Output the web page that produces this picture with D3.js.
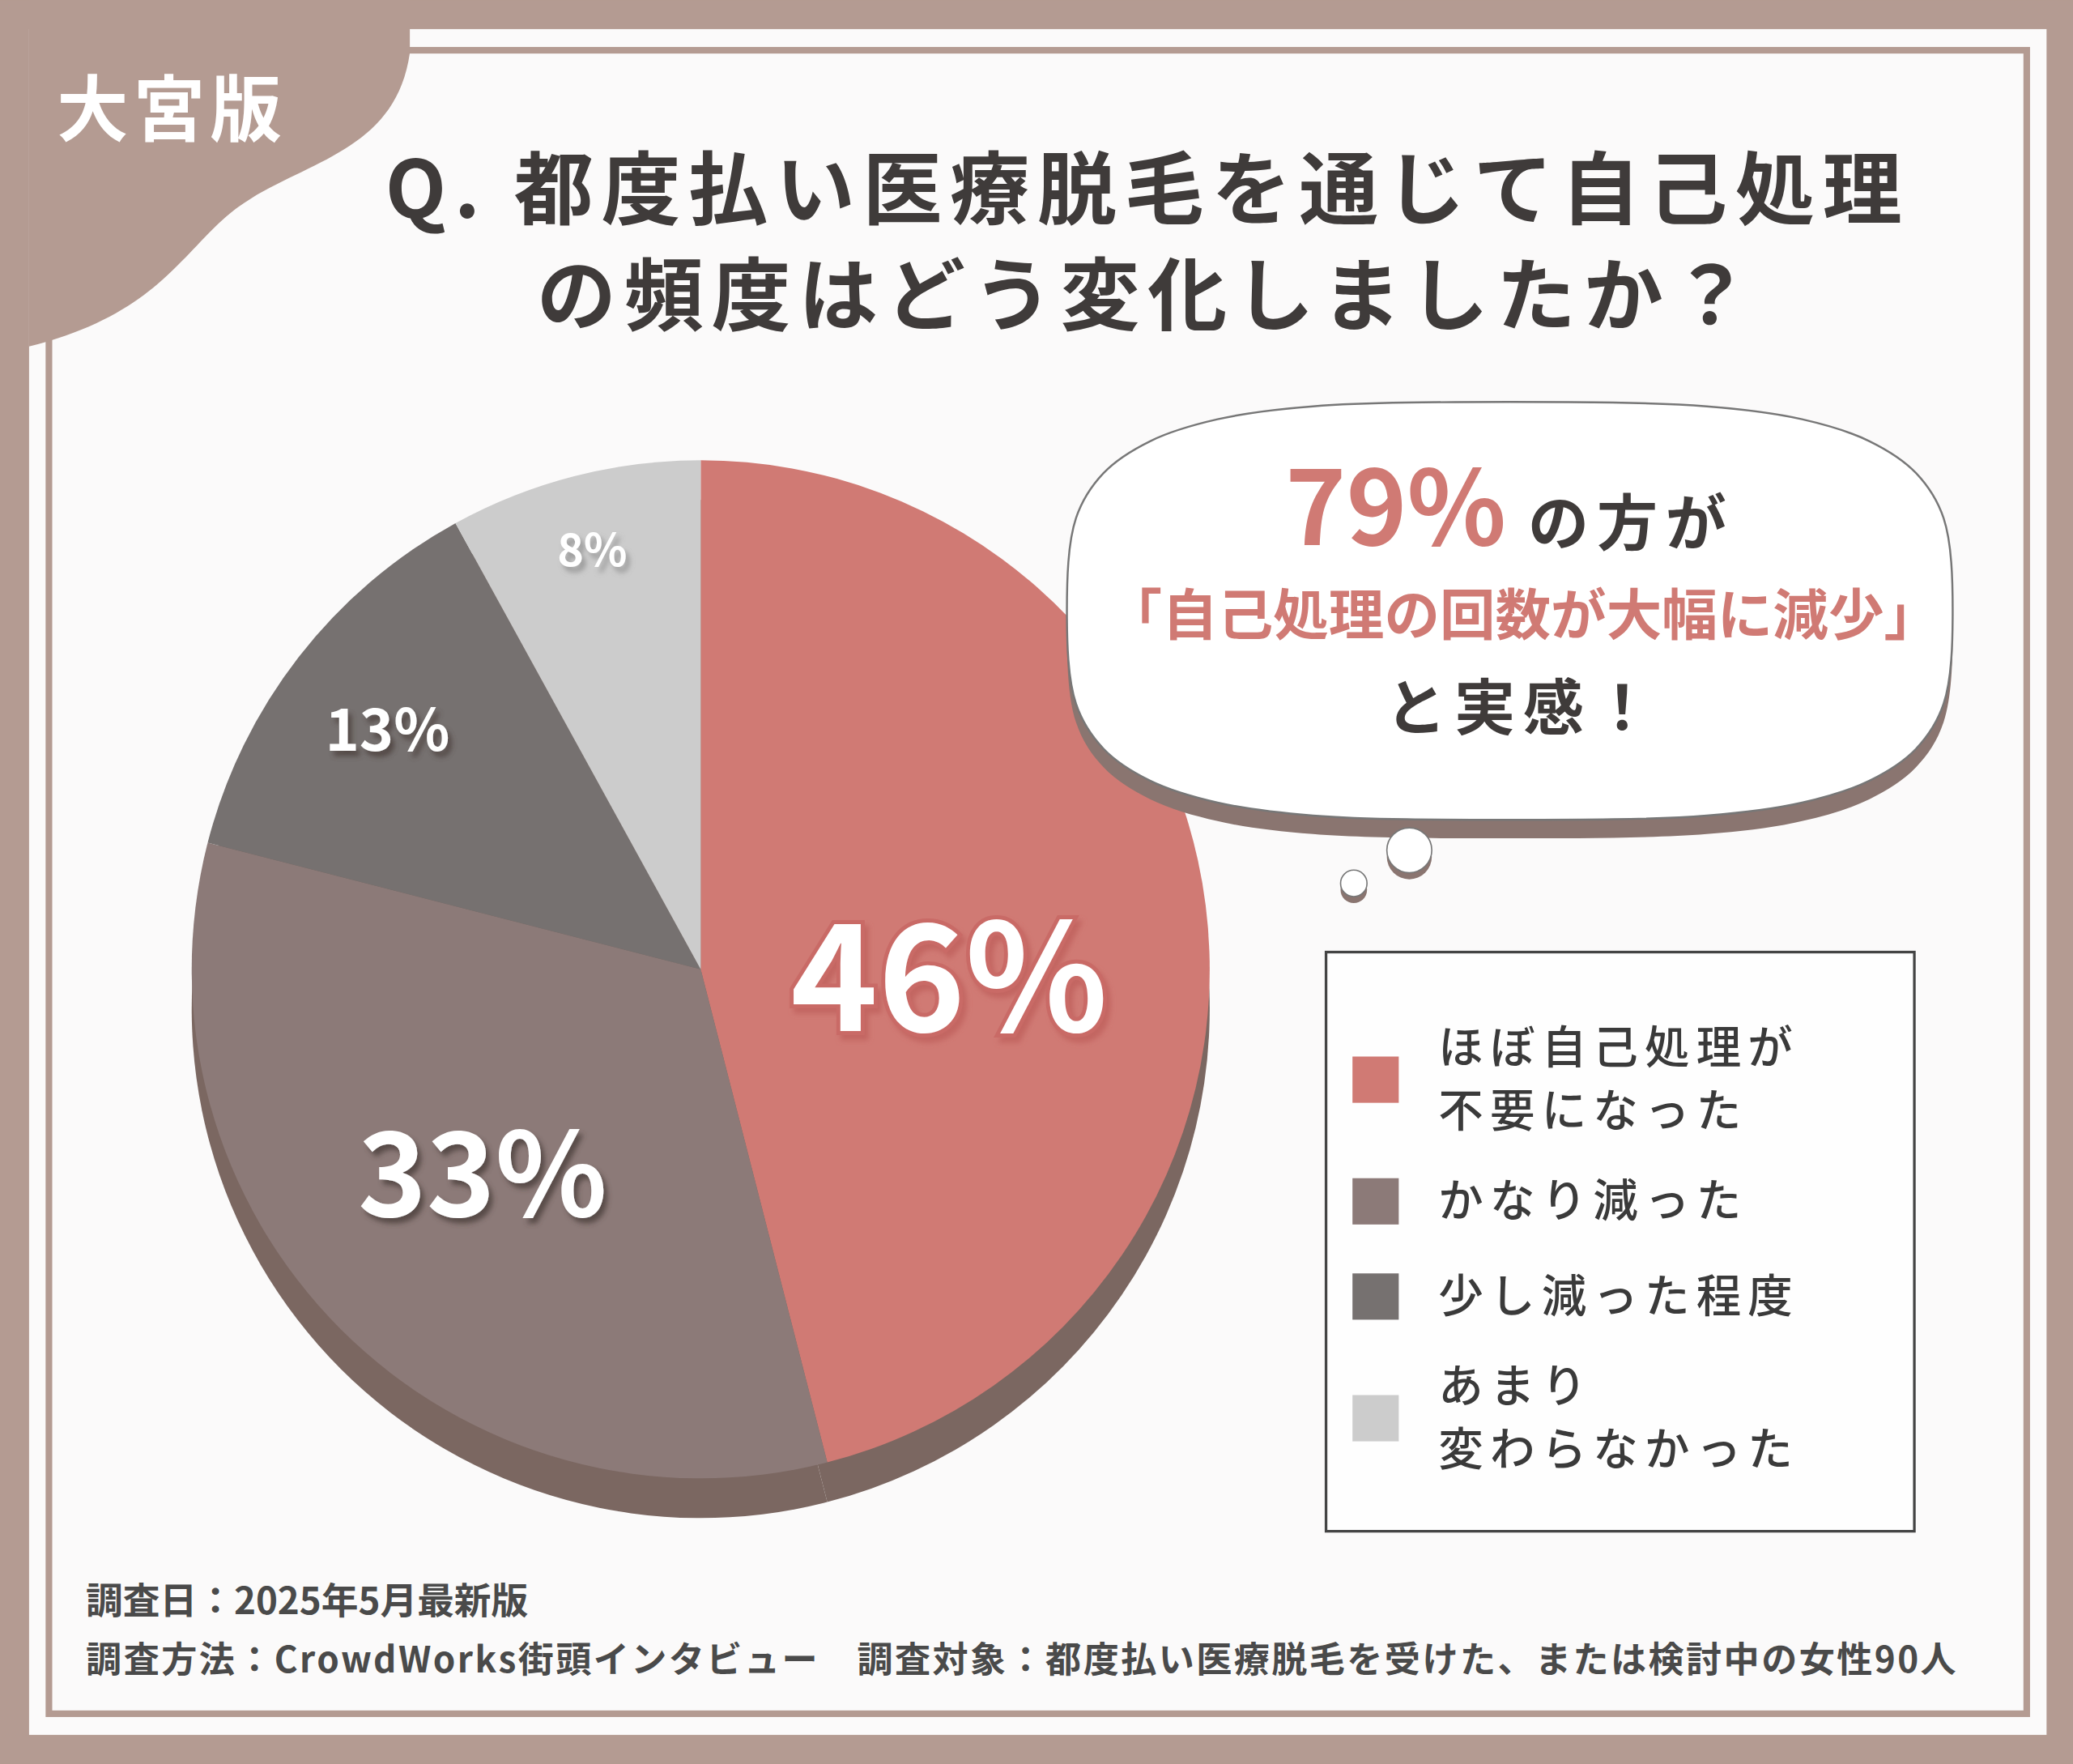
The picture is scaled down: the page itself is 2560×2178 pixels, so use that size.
<!DOCTYPE html>
<html><head><meta charset="utf-8">
<script src="https://cdn.jsdelivr.net/npm/d3@7"></script>
<style>body{margin:0;background:#b49b92}svg{display:block}</style></head>
<body><script>
const categories=["ほぼ自己処理が\n不要になった","かなり減った","少し減った程度","あまり\n変わらなかった"];
const values=[46,33,13,8];
const colors=["#d07a74","#8c7a78","#767170","#cccccc"];
const labels=["46%","33%","13%","8%"];

const svg=d3.select("body").append("svg").attr("width",2560).attr("height",2178).attr("viewBox","0 0 1568 1334");
const F="'Noto Sans CJK JP','Noto Sans',sans-serif";
const defs=svg.append("defs");
[["shR","#c0605c"],["shD","#4a3c3a"],["shG","#8a8a8a"]].forEach(([id,c])=>{
 const f=defs.append("filter").attr("id",id).attr("x","-20%").attr("y","-20%").attr("width","140%").attr("height","140%");
 f.append("feDropShadow").attr("dx",3).attr("dy",4).attr("stdDeviation",2).attr("flood-color",c).attr("flood-opacity",0.8);});
svg.append("rect").attr("width",1568).attr("height",1334).attr("fill","#b49b92");
svg.append("rect").attr("x",22).attr("y",22).attr("width",1526).attr("height",1290).attr("fill","#fbfafa");
svg.append("rect").attr("x",37).attr("y",38).attr("width",1496).attr("height",1258).attr("fill","none").attr("stroke","#b49b92").attr("stroke-width",5);
svg.append("path").attr("d","M0,0 H310 V40 C300,110 240,120 190,150 C140,180 130,235 22,262 V0 Z").attr("fill","#b49b92");
svg.append("text").attr("x",130).attr("y",102).attr("text-anchor","middle").attr("font-family",F).attr("font-weight",700).attr("font-size",54).attr("fill","#fff").attr("letter-spacing",4).text("大宮版");
[["Q. 都度払い医療脱毛を通じて自己処理",165],["の頻度はどう変化しましたか？",245]].forEach(([t,y])=>
 svg.append("text").attr("x",868).attr("y",y).attr("text-anchor","middle").attr("font-family",F).attr("font-weight",700).attr("font-size",60).attr("letter-spacing",6).attr("fill","#3f3b3a").text(t));

// pie
const cx=530,cy=733,r=385;
const pie=d3.pie().sort(null).value(d=>d)(values);
const arc=d3.arc().innerRadius(0).outerRadius(r);
svg.append("g").attr("transform",`translate(${cx},${cy+30})`).selectAll("path").data(pie).join("path").attr("d",arc).attr("fill","#7b6761");
svg.append("g").attr("transform",`translate(${cx},${cy})`).selectAll("path").data(pie).join("path").attr("d",arc).attr("fill",(d,i)=>colors[i]);
const lp=[[718,780,112,"#c96a66","shR"],[365,920,88,"#5a4a48","shD"],[293,568,44,"#5a5050","shD"],[448,428,34,"#9a9a9a","shG"]];
labels.forEach((t,i)=>{const [x,y,fs,st,fl]=lp[i];
 svg.append("text").attr("x",x).attr("y",y).attr("text-anchor","middle").attr("font-family",F).attr("font-weight",700).attr("font-size",fs).attr("fill","#fff").attr("stroke",st).attr("stroke-width",i==0?6:0).attr("paint-order","stroke").attr("filter",`url(#${fl})`).text(t);
});

// cloud bubble
const pts=[];const N=24;
for(let k=0;k<N;k++){const a=k/N*2*Math.PI;const c=Math.cos(a),s=Math.sin(a);
 const e=0.6;const x=Math.sign(c)*Math.pow(Math.abs(c),e),y=Math.sign(s)*Math.pow(Math.abs(s),e);
 pts.push([1142+335*x,462+158*y]);}
const cl=d3.line().curve(d3.curveCatmullRomClosed);
svg.append("path").attr("d",cl(pts)).attr("transform","translate(0,14)").attr("fill","#8a7570");
svg.append("path").attr("d",cl(pts)).attr("fill","#fff").attr("stroke","#777").attr("stroke-width",1.5);
[[1066,643,17],[1024,668,10]].forEach(([x,y,rr])=>{
 svg.append("circle").attr("cx",x).attr("cy",y+5).attr("r",rr).attr("fill","#8a7570");
 svg.append("circle").attr("cx",x).attr("cy",y).attr("r",rr).attr("fill","#fff").attr("stroke","#777");});
const t1=svg.append("text").attr("x",1142).attr("y",412).attr("text-anchor","middle").attr("font-family",F).attr("font-weight",700);
t1.append("tspan").attr("font-size",78).attr("fill","#d07a74").text("79%");
t1.append("tspan").attr("font-size",46).attr("fill","#3f3b3a").attr("letter-spacing",6).text(" の方が");
svg.append("text").attr("x",1152).attr("y",480).attr("text-anchor","middle").attr("font-family",F).attr("font-weight",700).attr("font-size",42).attr("fill","#d07a74").text("「自己処理の回数が大幅に減少」");
svg.append("text").attr("x",1152).attr("y",552).attr("text-anchor","middle").attr("font-family",F).attr("font-weight",700).attr("font-size",46).attr("letter-spacing",6).attr("fill","#3f3b3a").text("と実感！");

// legend
svg.append("rect").attr("x",1003).attr("y",720).attr("width",445).attr("height",438).attr("fill","#fff").attr("fill-opacity",0.7).attr("stroke","#444").attr("stroke-width",2);
const ly=[816,908,980,1072];
categories.forEach((c,i)=>{
 svg.append("rect").attr("x",1023).attr("y",ly[i]-17).attr("width",35).attr("height",35).attr("fill",colors[i]);
 const lines=c.split("\n");
 const t=svg.append("text").attr("x",1088).attr("font-family",F).attr("font-weight",500).attr("font-size",34).attr("letter-spacing",5).attr("fill","#3a3a3a");
 lines.forEach((l,j)=>t.append("tspan").attr("x",1088).attr("y",ly[i]+12+(j-(lines.length-1)/2)*48).text(l));
});
svg.append("text").attr("x",65).attr("y",1221).attr("font-family",F).attr("font-weight",700).attr("font-size",28).attr("fill","#4a4a4a").text("調査日：2025年5月最新版");
svg.append("text").attr("x",65).attr("y",1265).attr("font-family",F).attr("font-weight",700).attr("font-size",27).attr("letter-spacing",1.5).attr("fill","#4a4a4a").attr("xml:space","preserve").text("調査方法：CrowdWorks街頭インタビュー　調査対象：都度払い医療脱毛を受けた、または検討中の女性90人");
</script></body></html>
